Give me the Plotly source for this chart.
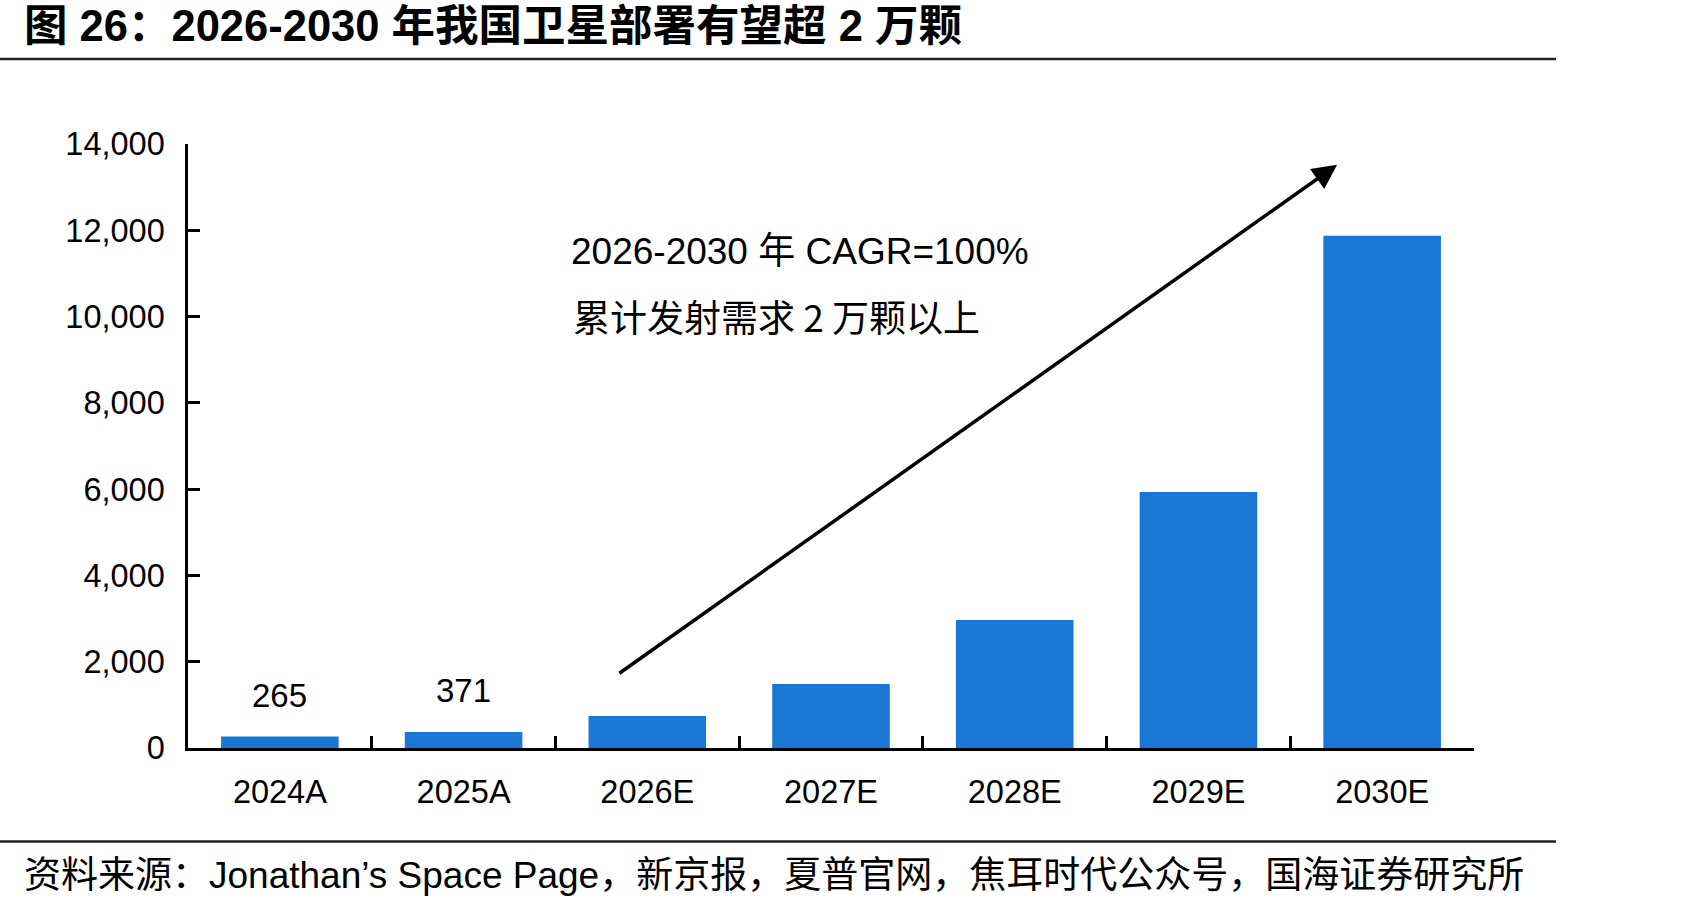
import plotly.graph_objects as go

categories = ["2024A", "2025A", "2026E", "2027E", "2028E", "2029E", "2030E"]
satellites = [265, 371, 742, 1484, 2968, 5936, 11872]
label_values = [265, 371]
label_categories = ["2024A", "2025A"]
y_tickvals = [0, 2000, 4000, 6000, 8000, 10000, 12000, 14000]
y_ticktext = ["0", "2,000", "4,000", "6,000", "8,000", "10,000", "12,000", "14,000"]

title_text = "图 26：2026-2030 年我国卫星部署有望超 2 万颗"
source_text = "资料来源：Jonathan’s Space Page，新京报，夏普官网，焦耳时代公众号，国海证券研究所"
note_line1 = "2026-2030 年 CAGR=100%"
note_line2 = "累计发射需求 2 万颗以上"

W, H = 1689, 909
L, R = 188, 1474
T, B = 144, 747.6
pw, ph = R - L, B - T

def px(x):
    return (x - L) / pw

def py(y):
    return (B - y) / ph

BAR = "#1878D3"
LAT = "Liberation Sans, Arial, Noto Sans CJK SC"

fig = go.Figure()
fig.add_trace(go.Bar(x=categories, y=satellites, marker=dict(color=BAR, line=dict(width=0)),
                     width=0.64, hoverinfo="skip"))

annotations = []
for c, v in zip(label_categories, label_values):
    annotations.append(dict(x=c, y=v, xref="x", yref="y", text=str(v), showarrow=False,
                            yanchor="middle", yshift=41,
                            font=dict(family=LAT, size=33, color="#000000")))

# growth arrow
annotations.append(dict(x=5.755, y=13517, xref="x", yref="y", ax=1.84, ay=1708,
                        axref="x", ayref="y", showarrow=True, arrowhead=2, arrowsize=1.4,
                        arrowwidth=3.5, arrowcolor="#000000", text=""))

annotations.append(dict(x=px(569), y=py(251), xref="paper", yref="paper", text=note_line1,
                        showarrow=False, xanchor="left", yanchor="middle",
                        font=dict(family=LAT, size=37, color="#000000")))
annotations.append(dict(x=px(571), y=py(316), xref="paper", yref="paper", text=note_line2,
                        showarrow=False, xanchor="left", yanchor="middle",
                        font=dict(family="Noto Sans CJK SC", size=37, color="#000000")))
annotations.append(dict(x=px(22), y=py(875), xref="paper", yref="paper", text=source_text,
                        showarrow=False, xanchor="left", yanchor="middle",
                        font=dict(family=LAT, size=37, color="#000000")))
annotations.append(dict(x=px(22), y=py(26), xref="paper", yref="paper", text="<b>" + title_text + "</b>",
                        showarrow=False, xanchor="left", yanchor="middle",
                        font=dict(family="Liberation Sans Narrow, Liberation Sans, Noto Sans CJK SC", size=43.5, color="#000000")))

shapes = [
    dict(type="line", xref="paper", yref="paper", x0=px(0), x1=px(1556), y0=py(59), y1=py(59),
         line=dict(color="#222222", width=2.5)),
    dict(type="line", xref="paper", yref="paper", x0=px(0), x1=px(1556), y0=py(841), y1=py(841),
         line=dict(color="#222222", width=2.5)),
]

fig.update_layout(
    width=W, height=H,
    margin=dict(l=L, r=W - R, t=T, b=H - B, pad=0),
    paper_bgcolor="white", plot_bgcolor="white",
    showlegend=False,
    annotations=annotations,
    shapes=shapes,
    bargap=0.36,
)
fig.update_xaxes(
    range=[-0.5, 6.5], showline=True, linecolor="#000000", linewidth=2.5,
    ticks="inside", tickson="boundaries", ticklen=12, tickwidth=2.5, tickcolor="#000000",
    showgrid=False, zeroline=False, ticklabelstandoff=13,
    tickfont=dict(family=LAT, size=32.5, color="#000000"),
)
fig.update_yaxes(
    range=[0, 14000], tickvals=y_tickvals, ticktext=y_ticktext,
    showline=True, linecolor="#000000", linewidth=2.5,
    ticks="inside", ticklen=12, tickwidth=2.5, tickcolor="#000000",
    showgrid=False, zeroline=False, ticklabelstandoff=14,
    tickfont=dict(family=LAT, size=32.5, color="#000000"),
)

fig.write_html("out.html")
